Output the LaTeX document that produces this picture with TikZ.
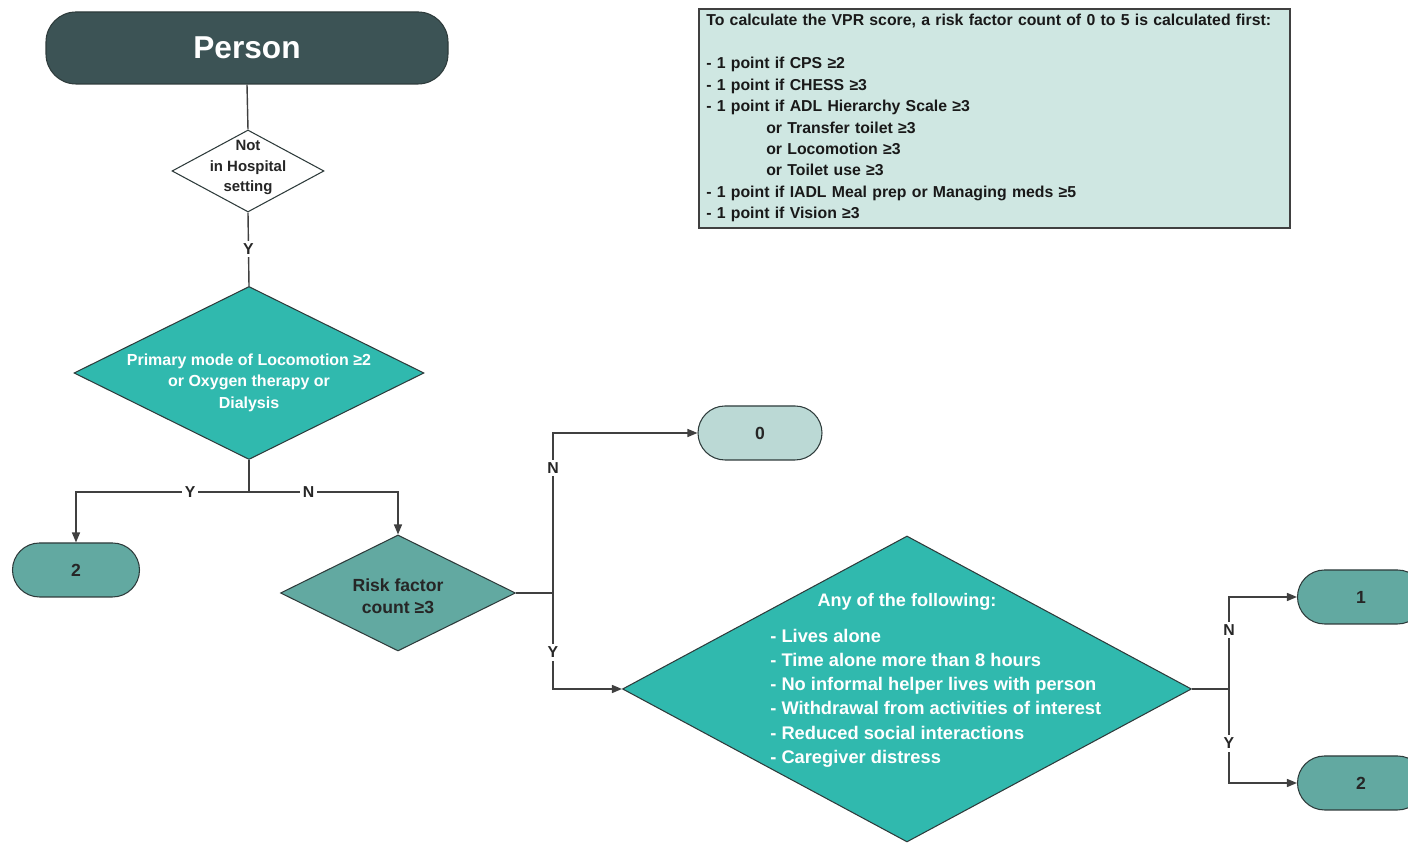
\documentclass[tikz,border=0pt]{standalone}
\usepackage{fontspec}
\setmainfont{Liberation Sans}
\usetikzlibrary{shapes.geometric,arrows.meta}

\definecolor{slate}{HTML}{3C5355}
\definecolor{tealhi}{HTML}{30B9AE}
\definecolor{tealmid}{HTML}{62A9A1}
\definecolor{teallo}{HTML}{BBD9D5}
\definecolor{notebg}{HTML}{CFE7E2}
\definecolor{edge}{HTML}{2E3B3B}
\definecolor{wire}{HTML}{404040}

\begin{document}
\begin{tikzpicture}[
	dia/.style={diamond, draw=edge, line width=0.6pt, inner sep=0pt},
	pill/.style={rectangle, rounded corners=0.54cm, draw=edge, line width=0.6pt, fill=tealmid, minimum width=2.54cm, minimum height=1.08cm, font=\fontsize{10}{12}\bfseries, text=black!85},
	wire/.style={draw=wire, line width=0.8pt},
	arr/.style={wire, -{Triangle[length=2mm,width=1.6mm]}},
	yn/.style={fill=white, inner sep=1.5pt, font=\fontsize{9}{10}\bfseries, text=black!85}
	]
	\useasboundingbox (0,0) rectangle (28.16,16.86);

	% top of the chart
	\node[rectangle, rounded corners=0.6cm, draw=edge, line width=0.6pt, fill=slate, minimum width=8.04cm, minimum height=1.44cm, text=white, font=\fontsize{18}{20}\bfseries] (person) at (4.94,15.90) {Person};
	\node[dia, fill=white, minimum width=3.04cm, minimum height=1.64cm] (hosp) at (4.96,13.44) {};
	\node[align=center, font=\fontsize{8.5}{11.6}\bfseries, text=black!85] (hosptxt) at ([yshift=0.07cm]hosp.center) {Not\\in Hospital\\setting};

	\node[dia, fill=tealhi, minimum width=7cm, minimum height=3.46cm] (mob) at (4.98,9.40) {};
	\node[align=center, font=\fontsize{9.1}{12.2}\bfseries, text=white] (mobtxt) at ([yshift=-0.19cm]mob.center) {Primary mode of Locomotion ≥2\\or Oxygen therapy or\\Dialysis};

	\node[pill] (twoL) at (1.52,5.46) {2};
	\node[dia, fill=tealmid, minimum width=4.7cm, minimum height=2.32cm] (risk) at (7.96,5.00) {};
	\node[align=center, font=\fontsize{10}{12.5}\bfseries, text=black!85] (risktxt) at ([yshift=-0.06cm]risk.center) {Risk factor\\count ≥3};

	\node[pill, fill=teallo, minimum width=2.48cm] (zero) at (15.20,8.20) {0};

	% second question
	\node[dia, fill=tealhi, minimum width=11.38cm, minimum height=6.12cm] (any) at (18.14,3.08) {};
	\node[font=\fontsize{10.3}{12}\bfseries, text=white] (anyhead) at (18.14,4.82) {Any of the following:};
	\node[anchor=west, inner sep=0pt, align=left, font=\fontsize{10.4}{13.8}\bfseries, text=white] (anylist) at (15.40,2.90) {- Lives alone\\- Time alone more than 8 hours\\- No informal helper lives with person\\- Withdrawal from activities of interest\\- Reduced social interactions\\- Caregiver distress};

	\node[pill] (one) at (27.22,4.92) {1};
	\node[pill] (twoR) at (27.22,1.20) {2};

	% scoring note
	\node[anchor=north west, rectangle, draw=wire, line width=0.9pt, fill=notebg, text width=11.52cm, inner xsep=0.15cm, inner ysep=0pt, minimum height=4.38cm, align=left, font=\fontsize{9}{12.2}\bfseries, text=black!90] (note) at (13.96,16.70) {To calculate the VPR score, a risk factor count of 0 to 5 is calculated first:\\[12.2pt]
	- 1 point if CPS ≥2\\
	- 1 point if CHESS ≥3\\
	- 1 point if ADL Hierarchy Scale ≥3\\
	\hspace*{1.2cm}or Transfer toilet ≥3\\
	\hspace*{1.2cm}or Locomotion ≥3\\
	\hspace*{1.2cm}or Toilet use ≥3\\
	- 1 point if IADL Meal prep or Managing meds ≥5\\
	- 1 point if Vision ≥3};

	% connectors
	\coordinate (jA) at (4.98,7.02);
	\coordinate (jB) at (11.06,5.00);
	\coordinate (jC) at (24.58,3.08);
	\draw[wire] (person.south) -- (hosp.north);
	\draw[wire] (hosp.south) -- node[yn]{Y} (mob.north);
	\draw[wire] (mob.south) -- (jA);
	\draw[arr] (jA) -| node[yn, pos=0.17]{Y} (twoL.north);
	\draw[arr] (jA) -| node[yn, pos=0.2]{N} (risk.north);
	\draw[wire] (risk.east) -- (jB);
	\draw[arr] (jB) |- node[yn, pos=0.39]{N} (zero.west);
	\draw[arr] (jB) |- node[yn, pos=0.31]{Y} (any.west);
	\draw[wire] (any.east) -- (jC);
	\draw[arr] (jC) |- node[yn, pos=0.32]{N} (one.west);
	\draw[arr] (jC) |- node[yn, pos=0.29]{Y} (twoR.west);
\end{tikzpicture}
\end{document}
